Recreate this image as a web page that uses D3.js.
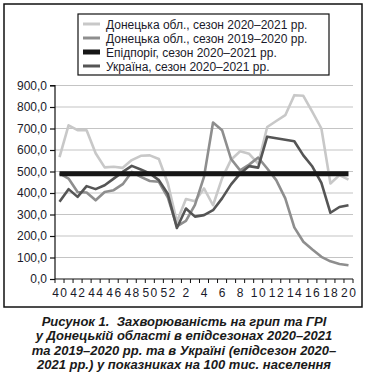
<!DOCTYPE html>
<html><head><meta charset="utf-8">
<script src="https://cdn.jsdelivr.net/npm/d3@7"></script>
<style>
body{margin:0;background:#fff;}
svg{display:block;font-family:"Liberation Sans",Arial,sans-serif;}
</style></head>
<body>
<svg id="c" width="368" height="379"></svg>
<script>
const weeks = ["40","41","42","43","44","45","46","47","48","49","50","51","52","1","2","3","4","5","6","7","8","9","10","11","12","13","14","15","16","17","18","19","20"];
const donetsk2021 = [567,715,692,692,585,519,522,517,553,573,575,558,444,266,372,362,421,343,468,555,594,582,537,707,735,762,855,852,777,700,444,483,462];
const donetsk1920 = [491,467,405,402,366,405,413,441,498,475,456,452,378,245,270,345,475,728,692,558,505,532,565,514,460,375,240,173,137,103,82,70,64];
const threshold = weeks.map(() => 490);
const ukraine = [359,418,382,432,418,436,467,498,526,509,491,460,395,237,328,290,297,320,375,440,490,525,518,662,655,648,641,575,523,447,308,335,343];
const yTicks = [0,100,200,300,400,500,600,700,800,900];
const seriesNames = ["Донецька обл., сезон 2020–2021 рр.","Донецька обл., сезон 2019–2020 рр.","Епідпоріг, сезон 2020–2021 рр.","Україна, сезон 2020–2021 рр."];
const captionLines = ["Рисунок 1.  Захворюваність на грип та ГРІ","у Донецькій області в епідсезонах 2020–2021","та 2019–2020 рр. та в Україні (епідсезон 2020–","2021 рр.) у показниках на 100 тис. населення"];

const svg = d3.select("#c");
const L = 55, R = 353, T = 85.5, B = 279;
const x = d3.scaleBand().domain(weeks).range([L, R]).padding(0);
const y = d3.scaleLinear().domain([0, 900]).range([B, T]);
const cx = w => x(w) + x.bandwidth() / 2;

// frame
svg.append("rect").attr("x",4).attr("y",4).attr("width",358).attr("height",303)
  .attr("fill","none").attr("stroke","#111").attr("stroke-width",1.5);

// gridlines
svg.append("g").selectAll("line").data(yTicks.filter(d => d > 0)).join("line")
  .attr("x1", L).attr("x2", R).attr("y1", d => y(d)).attr("y2", d => y(d))
  .attr("stroke", "#c4c4c4").attr("stroke-width", 1.2);

// y axis
const yAxis = d3.axisLeft(y).tickValues(yTicks).tickSize(5).tickPadding(3)
  .tickFormat(d => d3.format(".1f")(d).replace(".", ","));
const gy = svg.append("g").attr("transform", `translate(${L},0)`).call(yAxis);
gy.select(".domain").attr("stroke", "#111").attr("stroke-width", 1.2).attr("d", `M-5,${T}H0V${B}`);
gy.selectAll(".tick line").attr("stroke", "#111").attr("stroke-width", 1.2);
gy.selectAll("text").attr("font-size", 12).attr("fill", "#1a1a2a").attr("font-family", "Liberation Sans, Arial, sans-serif");

// x axis
const xAxis = d3.axisBottom(x).tickSize(0).tickPadding(9)
  .tickFormat(w => (+w % 2 === 0) ? w : "");
const gx = svg.append("g").attr("transform", `translate(0,${B})`).call(xAxis);
gx.select(".domain").attr("stroke", "#111").attr("stroke-width", 1.2).attr("d", `M${L},0H${R}`);
gx.selectAll("text").attr("font-size", 12).attr("fill", "#1a1a2a")
  .attr("font-family", "Liberation Sans, Arial, sans-serif")
  .attr("letter-spacing", "1.4px").attr("dx", "0.7px");
// boundary ticks
const bounds = weeks.map(w => x(w)).concat([x(weeks[weeks.length-1]) + x.bandwidth()]);
svg.append("g").selectAll("line").data(bounds).join("line")
  .attr("x1", d => d).attr("x2", d => d).attr("y1", B).attr("y2", B + 4)
  .attr("stroke", "#111").attr("stroke-width", 1);

// lines
const line = d3.line().x((d, i) => cx(weeks[i])).y(d => y(d));
const series = [
  {data: donetsk2021, color: "#c8c8c8", w: 2.6},
  {data: donetsk1920, color: "#8e8e8e", w: 2.6},
  {data: threshold, color: "#161616", w: 5},
  {data: ukraine, color: "#555555", w: 2.6}
];
const drawOrder = [0, 1, 3, 2];
drawOrder.forEach(k => {
  const s = series[k];
  svg.append("path").datum(s.data).attr("d", line).attr("fill", "none")
    .attr("stroke", s.color).attr("stroke-width", s.w).attr("stroke-linejoin", "round");
});

// legend
svg.append("rect").attr("x", 78).attr("y", 14).attr("width", 251).attr("height", 61)
  .attr("fill", "#fff").attr("stroke", "#111").attr("stroke-width", 1.2);
const lg = svg.append("g").selectAll("g").data(series).join("g")
  .attr("transform", (d, i) => `translate(83,${24 + i * 14})`);
lg.append("line").attr("x1", 0).attr("x2", 17).attr("y1", 0).attr("y2", 0)
  .attr("stroke", d => d.color).attr("stroke-width", d => d.w === 5 ? 5 : 3);
lg.append("text").attr("x", 23).attr("y", 4.5).attr("font-size", 12).attr("fill", "#1a1a2a")
  .text((d, i) => seriesNames[i]);

// caption
svg.append("g").selectAll("text").data(captionLines).join("text")
  .attr("x", 184).attr("y", (d, i) => 326 + i * 14.3).attr("text-anchor", "middle")
  .attr("font-size", 13).attr("font-weight", "bold").attr("font-style", "italic").attr("fill", "#1a1a1a")
  .style("white-space", "pre")
  .text(d => d);
</script>
</body></html>
